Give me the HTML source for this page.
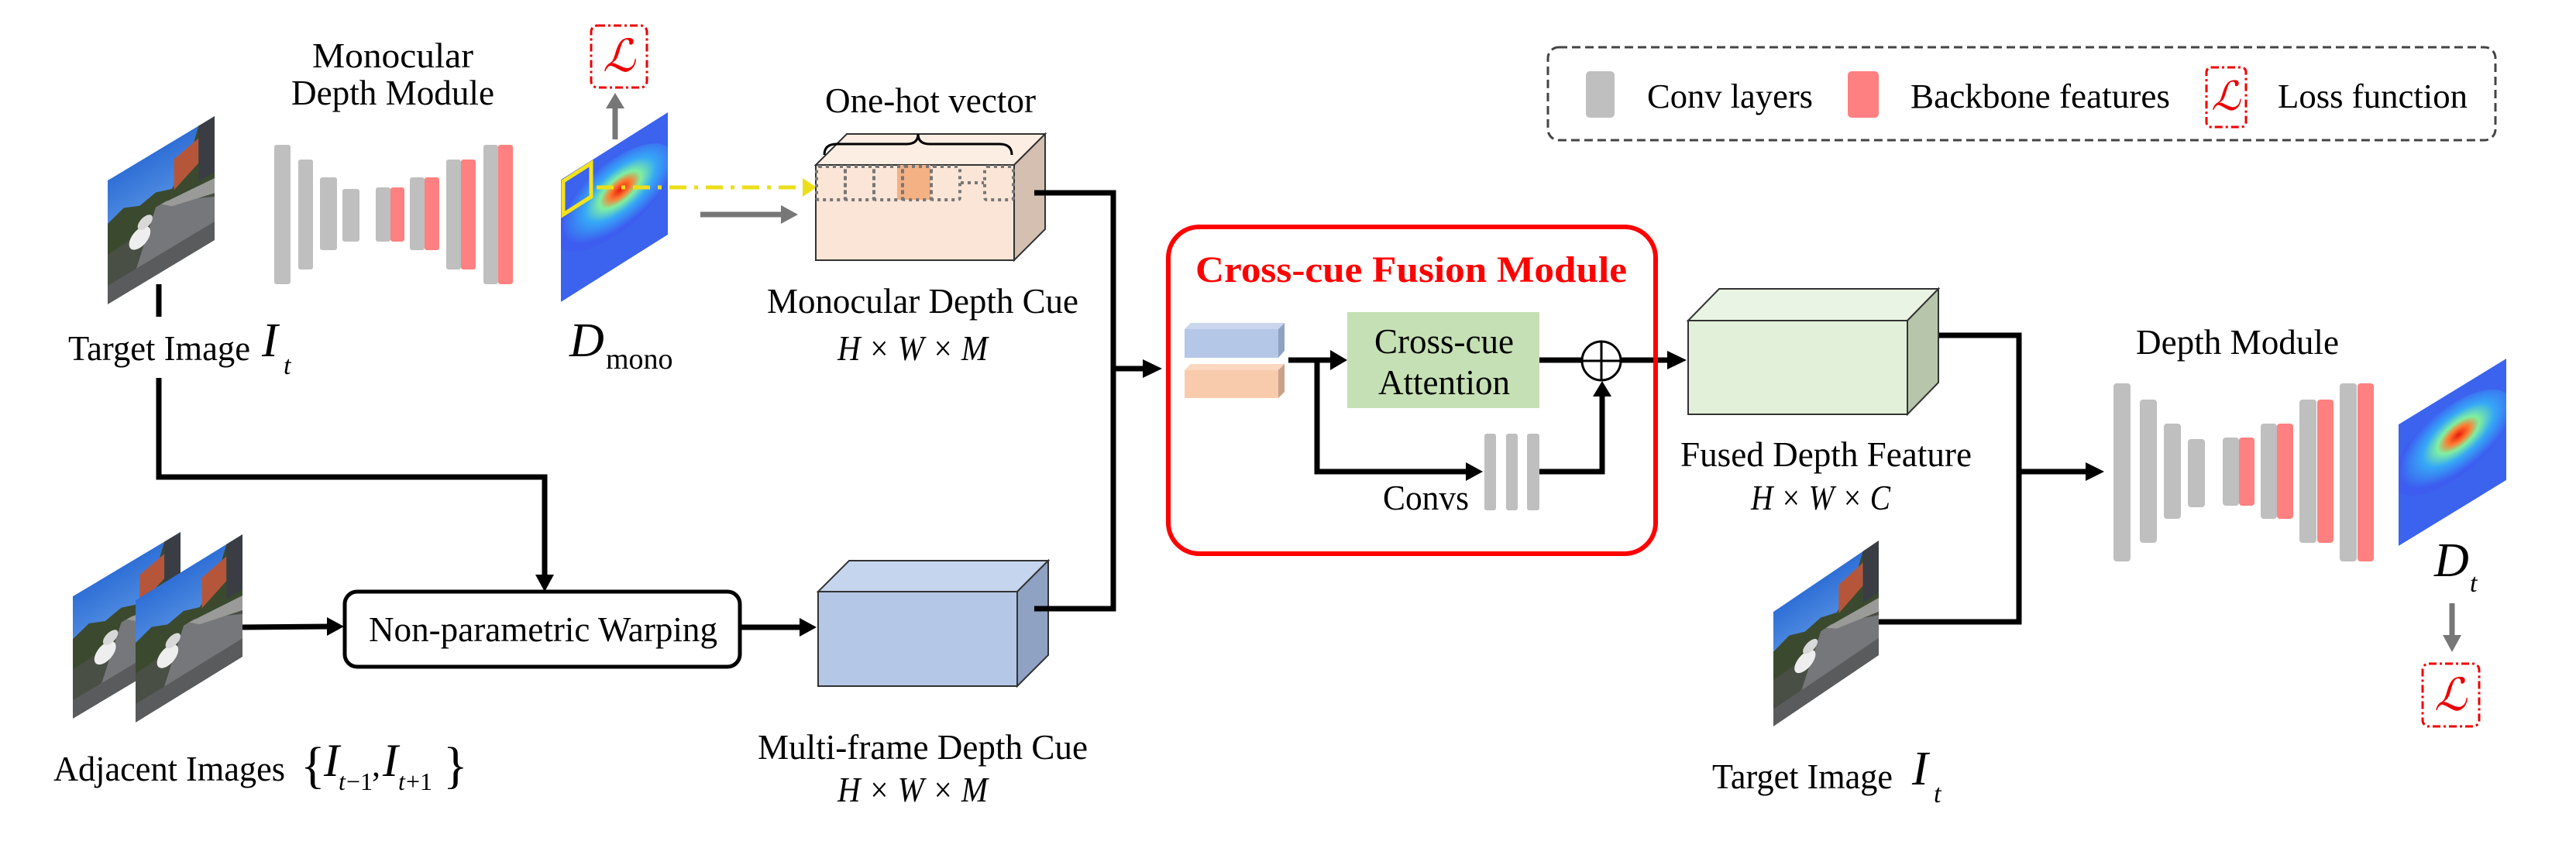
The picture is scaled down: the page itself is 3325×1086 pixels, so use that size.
<!DOCTYPE html>
<html><head><meta charset="utf-8"><style>html,body{margin:0;padding:0;background:#fff}svg{display:block}svg text{font-family:"Liberation Serif","DejaVu Serif","Times New Roman",serif;fill:#000}</style></head><body>
<svg width="3325" height="1086" viewBox="0 0 3325 1086" xmlns="http://www.w3.org/2000/svg" font-family="Liberation Serif, DejaVu Serif, serif">
<defs>
<clipPath id="uc"><rect x="0" y="0" width="1" height="1"/></clipPath>
<linearGradient id="sky" x1="0" y1="0" x2="0" y2="1"><stop offset="0" stop-color="#2f6fd6"/><stop offset="1" stop-color="#7fb4ef"/></linearGradient>
<g id="photo">
<rect x="0" y="0" width="1" height="1" fill="url(#sky)"/>
<rect x="0" y="0.38" width="1" height="0.62" fill="#4a4f45"/>
<polygon points="0,0.35 0.15,0.3 0.3,0.36 0.45,0.33 0.6,0.38 0.75,0.25 0.85,0 1,0 1,0.55 0,0.6" fill="#3b4a2e"/>
<polygon points="0.62,0.15 0.85,0.1 0.85,0.3 0.62,0.4" fill="#b5563a"/>
<rect x="0.85" y="0" width="0.15" height="0.45" fill="#3a3e44"/>
<polygon points="0.2,1 0.45,0.45 0.55,0.45 1,0.65 1,1" fill="#76777a"/>
<polygon points="0.5,0.45 1,0.5 1,0.62 0.6,0.52" fill="#9a9a98"/>
<ellipse cx="0.3" cy="0.62" rx="0.1" ry="0.08" fill="#eeeeee"/>
<ellipse cx="0.35" cy="0.52" rx="0.07" ry="0.05" fill="#d8d8d8"/>
<rect x="0" y="0.85" width="1" height="0.15" fill="#5a5b5c"/>
</g>
<radialGradient id="hm1" cx="0.55" cy="0.45" r="0.5"><stop offset="0" stop-color="#e81c0c"/><stop offset="0.18" stop-color="#ff7a30"/><stop offset="0.35" stop-color="#7ff0a0"/><stop offset="0.6" stop-color="#36a8f6"/><stop offset="1" stop-color="#3d5cf0"/></radialGradient>
<g id="heat">
<rect x="0" y="0" width="1" height="1" fill="#3b63ee"/>
<ellipse cx="0.5" cy="0.42" rx="0.55" ry="0.32" fill="url(#hm1)"/>
</g>
</defs>

<g transform="matrix(138,-83,0,160,139,233)"><use href="#photo" clip-path="url(#uc)"/></g>
<g transform="matrix(139,-83,0,158,94,770)"><use href="#photo" clip-path="url(#uc)"/></g>
<g transform="matrix(138,-85,0,158,175,775)"><use href="#photo" clip-path="url(#uc)"/></g>
<g transform="matrix(136,-92,0,148,2289,790)"><use href="#photo" clip-path="url(#uc)"/></g>
<g transform="matrix(138,-87,0,158,724,232)"><use href="#heat" clip-path="url(#uc)"/></g>
<g transform="matrix(139,-85,0,157,3096,548)"><use href="#heat" clip-path="url(#uc)"/></g>
<polygon points="727,234 763,211 763,254 727,277" fill="none" stroke="#f5e31a" stroke-width="5"/>

<g fill="#bfbfbf">
<rect x="354" y="187" width="21" height="180" rx="3"/>
<rect x="385" y="206" width="19" height="142" rx="3"/>
<rect x="413" y="229" width="22" height="94" rx="3"/>
<rect x="442" y="244" width="22" height="68" rx="3"/>
<rect x="485" y="242" width="19" height="70" rx="3"/>
<rect x="529" y="229" width="19" height="94" rx="3"/>
<rect x="576" y="206" width="19" height="142" rx="3"/>
<rect x="624" y="187" width="19" height="180" rx="3"/>
</g>
<g fill="#ff8080">
<rect x="504" y="242" width="18" height="70" rx="3"/>
<rect x="548" y="229" width="19" height="94" rx="3"/>
<rect x="595" y="206" width="19" height="142" rx="3"/>
<rect x="643" y="187" width="19" height="180" rx="3"/>
</g>
<g fill="#bfbfbf">
<rect x="2728" y="495" width="22" height="230" rx="4"/>
<rect x="2762" y="516" width="22" height="185" rx="4"/>
<rect x="2793" y="547" width="22" height="123" rx="4"/>
<rect x="2824" y="567" width="22" height="88" rx="4"/>
<rect x="2869" y="565" width="21" height="88" rx="4"/>
<rect x="2918" y="547" width="21" height="123" rx="4"/>
<rect x="2968" y="516" width="22" height="185" rx="4"/>
<rect x="3020" y="495" width="22" height="230" rx="4"/>
</g>
<g fill="#ff8080">
<rect x="2890" y="565" width="20" height="88" rx="4"/>
<rect x="2939" y="547" width="21" height="123" rx="4"/>
<rect x="2991" y="516" width="21" height="185" rx="4"/>
<rect x="3043" y="495" width="21" height="230" rx="4"/>
</g>

<g fill="none" stroke="#e00" stroke-width="3" stroke-dasharray="10,4,3,4">
<rect x="763" y="33" width="72" height="80" rx="8"/>
<rect x="3127" y="857" width="73" height="81" rx="8"/>
<rect x="2848" y="87" width="51" height="77" rx="6"/>
</g>
<g font-style="italic">
<text x="799" y="92" font-size="58" text-anchor="middle" style="fill:#e00">ℒ</text>
<text x="3163" y="917" font-size="58" text-anchor="middle" style="fill:#e00">ℒ</text>
<text x="2873" y="142" font-size="52" text-anchor="middle" style="fill:#e00">ℒ</text>
</g>

<g stroke="#777" stroke-width="7" fill="#777">
<line x1="794" y1="180" x2="794" y2="138"/>
<line x1="904" y1="277" x2="1010" y2="277"/>
<line x1="3165" y1="779" x2="3165" y2="822"/>
</g>
<g fill="#777">
<polygon points="782,140 806,140 794,120"/>
<polygon points="1008,265 1008,289 1030,277"/>
<polygon points="3153,820 3177,820 3165,842"/>
</g>
<line x1="770" y1="242" x2="1038" y2="242" stroke="#ecdf1a" stroke-width="5" stroke-dasharray="22,10,5,10"/>
<polygon points="1036,230 1036,254 1054,242" fill="#ecdf1a"/>

<polygon points="1053,213 1093,173 1349,173 1309,213" fill="#fdeee3" stroke="#333" stroke-width="2"/>
<polygon points="1309,213 1349,173 1349,296 1309,336" fill="#d5bfb0" stroke="#333" stroke-width="2"/>
<rect x="1053" y="213" width="256" height="123" fill="#fbe5d6" stroke="#333" stroke-width="2"/>
<rect x="1158" y="213" width="43" height="45" fill="#f4b183"/>
<g fill="none" stroke="#777" stroke-width="4" stroke-dasharray="4,5">
<rect x="1054" y="215" width="37" height="43" rx="3"/>
<rect x="1091" y="215" width="37" height="43" rx="3"/>
<rect x="1128" y="215" width="37" height="43" rx="3"/>
<rect x="1165" y="215" width="37" height="43" rx="3"/>
<rect x="1202" y="215" width="37" height="43" rx="3"/>
<rect x="1271" y="215" width="37" height="43" rx="3"/>
<line x1="1240" y1="236" x2="1270" y2="236"/>
</g>
<path d="M1064,200 Q1064,186 1080,186 L1170,186 Q1185,186 1185,173 Q1185,186 1200,186 L1290,186 Q1306,186 1306,200" fill="none" stroke="#000" stroke-width="3"/>

<polygon points="1056,764 1096,724 1353,724 1313,764" fill="#c6d5ee" stroke="#333" stroke-width="2"/>
<polygon points="1313,764 1353,724 1353,846 1313,886" fill="#8fa2c4" stroke="#333" stroke-width="2"/>
<rect x="1056" y="764" width="257" height="122" fill="#b4c7e7" stroke="#333" stroke-width="2"/>

<polygon points="2179,414 2219,373 2502,373 2462,414" fill="#eaf4e4" stroke="#333" stroke-width="2"/>
<polygon points="2462,414 2502,373 2502,494 2462,535" fill="#b7c6ab" stroke="#333" stroke-width="2"/>
<rect x="2179" y="414" width="283" height="121" fill="#e2f0d9" stroke="#333" stroke-width="2"/>

<g fill="none" stroke="#000" stroke-width="7">
<polyline points="205,367 205,409"/>
<polyline points="205,488 205,616 703,616 703,745"/>
<line x1="313" y1="810" x2="425" y2="809"/>
<line x1="957" y1="810" x2="1035" y2="810"/>
<polyline points="1335,249 1437,249 1437,786 1335,786"/>
<line x1="1437" y1="476" x2="1478" y2="476"/>
<line x1="1663" y1="465" x2="1720" y2="465"/>
<polyline points="1700,465 1700,609 1895,609"/>
<line x1="1987" y1="465" x2="2041" y2="465"/>
<polyline points="1987,609 2068,609 2068,510"/>
<line x1="2093" y1="465" x2="2155" y2="465"/>
<polyline points="2503,433 2606,433 2606,803 2425,803"/>
<line x1="2606" y1="609" x2="2695" y2="609"/>
</g>
<g fill="#000">
<polygon points="691,742 715,742 703,764"/>
<polygon points="422,797 422,821 444,809"/>
<polygon points="1032,798 1032,822 1054,810"/>
<polygon points="1475,464 1475,488 1500,476"/>
<polygon points="1717,452 1717,478 1739,465"/>
<polygon points="1892,597 1892,621 1914,609"/>
<polygon points="2056,512 2080,512 2068,492"/>
<polygon points="2152,453 2152,477 2177,465"/>
<polygon points="2692,597 2692,621 2716,609"/>
</g>

<rect x="445" y="764" width="510" height="97" rx="16" fill="#fff" stroke="#000" stroke-width="5"/>

<rect x="1508" y="293" width="629" height="422" rx="40" fill="none" stroke="#f00" stroke-width="6"/>
<polygon points="1529,425 1537,417 1658,417 1650,425" fill="#c9d6ee"/>
<polygon points="1650,425 1658,417 1658,453 1650,462" fill="#8fa2c4"/>
<rect x="1529" y="425" width="121" height="37" fill="#b4c7e7"/>
<polygon points="1529,478 1537,470 1658,470 1650,478" fill="#fbd7c0"/>
<polygon points="1650,478 1658,470 1658,506 1650,514" fill="#c9a08a"/>
<rect x="1529" y="478" width="121" height="36" fill="#f8cbad"/>
<rect x="1739" y="403" width="248" height="124" fill="#c5e0b4"/>
<g fill="#bfbfbf">
<rect x="1916" y="560" width="15" height="99" rx="3"/>
<rect x="1944" y="560" width="15" height="99" rx="3"/>
<rect x="1971" y="560" width="16" height="99" rx="3"/>
</g>
<circle cx="2067" cy="466" r="25" fill="#fff" stroke="#000" stroke-width="3"/>
<line x1="2042" y1="466" x2="2092" y2="466" stroke="#000" stroke-width="3"/>
<line x1="2067" y1="441" x2="2067" y2="491" stroke="#000" stroke-width="3"/>

<rect x="1998" y="61" width="1223" height="120" rx="14" fill="none" stroke="#444" stroke-width="3" stroke-dasharray="11,6"/>
<rect x="2047" y="92" width="37" height="60" rx="5" fill="#bfbfbf"/>
<rect x="2385" y="92" width="40" height="60" rx="5" fill="#ff8080"/>
<text x="2126" y="139" font-size="44" textLength="214" lengthAdjust="spacingAndGlyphs">Conv layers</text>
<text x="2466" y="139" font-size="44" textLength="335" lengthAdjust="spacingAndGlyphs">Backbone features</text>
<text x="2940" y="139" font-size="44" textLength="245" lengthAdjust="spacingAndGlyphs">Loss function</text>

<g font-size="46">
<text x="507" y="87" text-anchor="middle" textLength="208" lengthAdjust="spacingAndGlyphs">Monocular</text>
<text x="507" y="135" text-anchor="middle" textLength="262" lengthAdjust="spacingAndGlyphs">Depth Module</text>
<text x="1201" y="145" text-anchor="middle" textLength="272" lengthAdjust="spacingAndGlyphs">One-hot vector</text>
<text x="88" y="465" textLength="235" lengthAdjust="spacingAndGlyphs">Target Image</text>
<text x="990" y="404" textLength="402" lengthAdjust="spacingAndGlyphs">Monocular Depth Cue</text>
<text x="69" y="1008" textLength="299" lengthAdjust="spacingAndGlyphs">Adjacent Images</text>
<text x="476" y="828" textLength="450" lengthAdjust="spacingAndGlyphs">Non-parametric Warping</text>
<text x="978" y="980" textLength="426" lengthAdjust="spacingAndGlyphs">Multi-frame Depth Cue</text>
<text x="1785" y="658" textLength="111" lengthAdjust="spacingAndGlyphs">Convs</text>
<text x="1864" y="456" text-anchor="middle" textLength="180" lengthAdjust="spacingAndGlyphs">Cross-cue</text>
<text x="1864" y="509" text-anchor="middle" textLength="170" lengthAdjust="spacingAndGlyphs">Attention</text>
<text x="2169" y="602" textLength="376" lengthAdjust="spacingAndGlyphs">Fused Depth Feature</text>
<text x="2757" y="457" textLength="262" lengthAdjust="spacingAndGlyphs">Depth Module</text>
<text x="2210" y="1018" textLength="233" lengthAdjust="spacingAndGlyphs">Target Image</text>
</g>
<text x="1543" y="364" font-size="48" font-weight="bold" style="fill:#f00" textLength="557" lengthAdjust="spacingAndGlyphs">Cross-cue Fusion Module</text>
<g font-style="italic">
<text x="338" y="460" font-size="62">I</text><text x="366" y="483" font-size="34">t</text>
<text x="2468" y="1013" font-size="62">I</text><text x="2496" y="1036" font-size="34">t</text>
<text x="735" y="460" font-size="62">D</text>
<text x="3142" y="744" font-size="62">D</text><text x="3188" y="764" font-size="34">t</text>
<text x="1081" y="465" font-size="46" textLength="194" lengthAdjust="spacingAndGlyphs">H × W × M</text>
<text x="1081" y="1035" font-size="46" textLength="194" lengthAdjust="spacingAndGlyphs">H × W × M</text>
<text x="2260" y="658" font-size="46" textLength="180" lengthAdjust="spacingAndGlyphs">H × W × C</text>
</g>
<text x="782" y="476" font-size="38">mono</text>
<g>
<text x="388" y="1010" font-size="66">{</text>
<text x="418" y="1002" font-size="60" font-style="italic">I</text>
<text x="437" y="1020" font-size="32" font-style="italic">t</text><text x="447" y="1020" font-size="32">−1</text>
<text x="480" y="1002" font-size="44">,</text>
<text x="494" y="1002" font-size="60" font-style="italic">I</text>
<text x="514" y="1020" font-size="32" font-style="italic">t</text><text x="524" y="1020" font-size="32">+1</text>
<text x="572" y="1010" font-size="66">}</text>
</g>
</svg>
</body></html>
